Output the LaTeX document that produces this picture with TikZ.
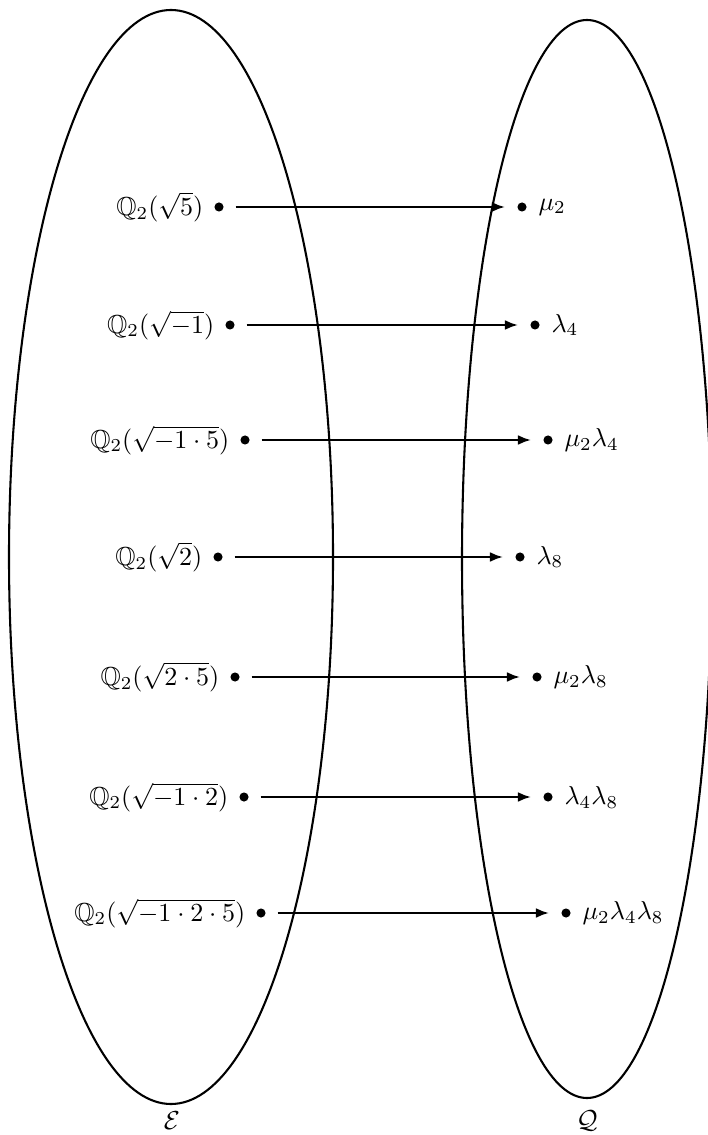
\documentclass[tikz,border=0pt]{standalone}
\usepackage{amssymb}
\usetikzlibrary{arrows.meta}
\begin{document}
\begin{tikzpicture}[x=0.384pt,y=-0.384pt,
  dot/.style={circle,fill,inner sep=0pt,minimum size=3.5pt},
  ltxt/.style={anchor=east,inner sep=0pt},
  rtxt/.style={anchor=west,inner sep=0pt},
  map/.style={-{Latex[length=5pt,width=3.8pt]},thick,shorten <=4.4pt,shorten >=4.6pt},
  set/.style={thick}]
\useasboundingbox (0,0) rectangle (707,1135);
\draw[set] (171,557) ellipse [x radius=162, y radius=547];
\draw[set] (587,559) ellipse [x radius=125, y radius=539];
\node (E) at (172,1121) {$\mathcal{E}$};
\node (Q) at (587,1121) {$\mathcal{Q}$};
% left dots
\node[dot] (l1) at (219,207) {};
\node[dot] (l2) at (230,325) {};
\node[dot] (l3) at (245,440) {};
\node[dot] (l4) at (218,557) {};
\node[dot] (l5) at (235,677) {};
\node[dot] (l6) at (244,797) {};
\node[dot] (l7) at (261,913) {};
% right dots
\node[dot] (r1) at (522,207) {};
\node[dot] (r2) at (535,325) {};
\node[dot] (r3) at (548,440) {};
\node[dot] (r4) at (520,557) {};
\node[dot] (r5) at (537,677) {};
\node[dot] (r6) at (548,797) {};
\node[dot] (r7) at (566,913) {};
% left labels
\node[ltxt] (t1) at ([xshift=-3.9pt]l1.west) {$\mathbb{Q}_2(\sqrt{5})$};
\node[ltxt] (t2) at ([xshift=-3.9pt]l2.west) {$\mathbb{Q}_2(\sqrt{-1})$};
\node[ltxt] (t3) at ([xshift=-3.9pt]l3.west) {$\mathbb{Q}_2(\sqrt{-1\cdot 5})$};
\node[ltxt] (t4) at ([xshift=-3.9pt]l4.west) {$\mathbb{Q}_2(\sqrt{2})$};
\node[ltxt] (t5) at ([xshift=-3.9pt]l5.west) {$\mathbb{Q}_2(\sqrt{2\cdot 5})$};
\node[ltxt] (t6) at ([xshift=-3.9pt]l6.west) {$\mathbb{Q}_2(\sqrt{-1\cdot 2})$};
\node[ltxt] (t7) at ([xshift=-3.9pt]l7.west) {$\mathbb{Q}_2(\sqrt{-1\cdot 2\cdot 5})$};
% right labels
\node[rtxt] (s1) at ([xshift=4.2pt]r1.east) {$\mu_2$};
\node[rtxt] (s2) at ([xshift=4.2pt]r2.east) {$\lambda_4$};
\node[rtxt] (s3) at ([xshift=4.2pt]r3.east) {$\mu_2\lambda_4$};
\node[rtxt] (s4) at ([xshift=4.2pt]r4.east) {$\lambda_8$};
\node[rtxt] (s5) at ([xshift=4.2pt]r5.east) {$\mu_2\lambda_8$};
\node[rtxt] (s6) at ([xshift=4.2pt]r6.east) {$\lambda_4\lambda_8$};
\node[rtxt] (s7) at ([xshift=4.2pt]r7.east) {$\mu_2\lambda_4\lambda_8$};
% arrows
\foreach \i in {1,...,7} \draw[map] (l\i) -- (r\i);
\end{tikzpicture}
\end{document}
